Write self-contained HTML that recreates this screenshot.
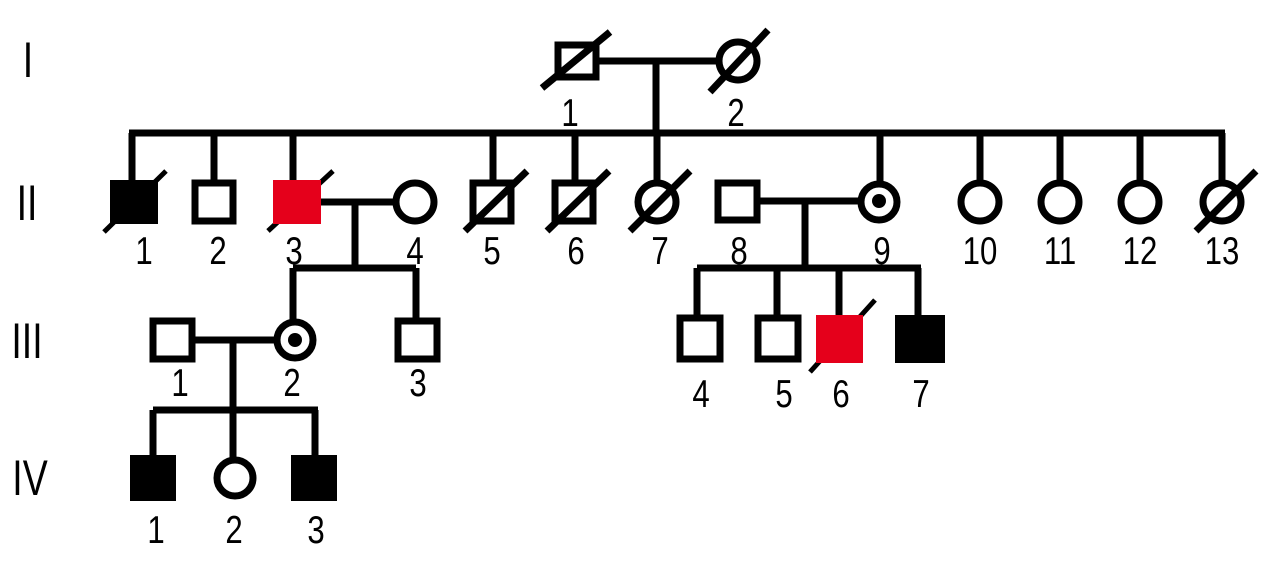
<!DOCTYPE html>
<html><head><style>
html,body{margin:0;padding:0;background:#fff;}
svg{display:block;}
text{font-family:"Liberation Sans",sans-serif;fill:#000;}
</style></head><body>
<svg width="1280" height="571" viewBox="0 0 1280 571" xmlns="http://www.w3.org/2000/svg">
<g font-size="50" text-anchor="middle">
<text transform="translate(28,77) scale(0.75,1)">I</text>
<text transform="translate(27,220) scale(0.75,1)">II</text>
<text transform="translate(27,358) scale(0.75,1)">III</text>
<text transform="translate(30,495) scale(0.75,1)">IV</text>
</g>
<g stroke="#000" stroke-width="7" fill="none">
<line x1="598" y1="61" x2="718" y2="61"/>
<line x1="656" y1="61" x2="656" y2="133"/>
<line x1="129" y1="133" x2="1225" y2="133"/>
<line x1="132" y1="133" x2="132" y2="180"/>
<line x1="214" y1="133" x2="214" y2="180"/>
<line x1="293" y1="133" x2="293" y2="180"/>
<line x1="493" y1="133" x2="493" y2="180"/>
<line x1="575" y1="133" x2="575" y2="180"/>
<line x1="657" y1="133" x2="657" y2="182"/>
<line x1="880" y1="133" x2="880" y2="182"/>
<line x1="980" y1="133" x2="980" y2="182"/>
<line x1="1060" y1="133" x2="1060" y2="182"/>
<line x1="1140" y1="133" x2="1140" y2="182"/>
<line x1="1222" y1="133" x2="1222" y2="182"/>
<line x1="321" y1="202" x2="395" y2="202"/>
<line x1="355" y1="202" x2="355" y2="268"/>
<line x1="293" y1="268" x2="416" y2="268"/>
<line x1="293" y1="268" x2="293" y2="320"/>
<line x1="416" y1="268" x2="416" y2="318"/>
<line x1="760" y1="201" x2="860" y2="201"/>
<line x1="805" y1="201" x2="805" y2="268"/>
<line x1="697" y1="268" x2="921" y2="268"/>
<line x1="697" y1="268" x2="697" y2="316"/>
<line x1="777" y1="268" x2="777" y2="316"/>
<line x1="839" y1="268" x2="839" y2="316"/>
<line x1="918" y1="268" x2="918" y2="316"/>
<line x1="195" y1="340" x2="275" y2="340"/>
<line x1="233" y1="340" x2="233" y2="410"/>
<line x1="153" y1="410" x2="318" y2="410"/>
<line x1="153" y1="410" x2="153" y2="456"/>
<line x1="233" y1="410" x2="233" y2="460"/>
<line x1="315" y1="410" x2="315" y2="456"/>
<line x1="542" y1="88" x2="610" y2="32"/>
<line x1="710" y1="92" x2="768" y2="30"/>
<line x1="104" y1="232" x2="166" y2="171" stroke-width="5"/>
<line x1="268" y1="231" x2="333" y2="171" stroke-width="5"/>
<line x1="465" y1="231" x2="527" y2="171"/>
<line x1="547" y1="231" x2="609" y2="171"/>
<line x1="630" y1="231" x2="690" y2="171"/>
<line x1="1196" y1="231" x2="1256" y2="171"/>
<line x1="810" y1="372" x2="875" y2="300" stroke-width="5"/>
<rect x="558" y="45" width="38" height="32" fill="none"/>
<circle cx="738" cy="61" r="19"/>
<rect x="110" y="180" width="48" height="44" fill="#000" stroke="none"/>
<rect x="195" y="183" width="38" height="38"/>
<rect x="273" y="180" width="48" height="44" fill="#e5001b" stroke="none"/>
<circle cx="415" cy="202" r="19" fill="#fff"/>
<rect x="473" y="183" width="38" height="38"/>
<rect x="555" y="183" width="38" height="38"/>
<circle cx="657" cy="202" r="19"/>
<rect x="718" y="183" width="39" height="37" fill="#fff"/>
<circle cx="879" cy="202" r="18" fill="#fff"/>
<circle cx="980" cy="202" r="19" fill="#fff"/>
<circle cx="1060" cy="202" r="19" fill="#fff"/>
<circle cx="1140" cy="202" r="19" fill="#fff"/>
<circle cx="1222" cy="202" r="19"/>
<rect x="153" y="321" width="39" height="38" fill="#fff"/>
<circle cx="295" cy="340" r="18" fill="#fff"/>
<rect x="398" y="321" width="39" height="38" fill="#fff"/>
<rect x="680" y="318" width="40" height="41" fill="#fff"/>
<rect x="758" y="318" width="40" height="41" fill="#fff"/>
<rect x="816" y="315" width="47" height="48" fill="#e5001b" stroke="none"/>
<rect x="895" y="315" width="50" height="48" fill="#000" stroke="none"/>
<rect x="130" y="455" width="46" height="46" fill="#000" stroke="none"/>
<circle cx="235" cy="478" r="18" fill="#fff"/>
<rect x="291" y="455" width="46" height="46" fill="#000" stroke="none"/>
</g>
<circle cx="879" cy="201" r="7" fill="#000"/>
<circle cx="295" cy="340" r="7" fill="#000"/>
<g font-size="39" text-anchor="middle">
<text transform="translate(570,126) scale(0.8,1)">1</text>
<text transform="translate(736,126) scale(0.8,1)">2</text>
<text transform="translate(144,264) scale(0.8,1)">1</text>
<text transform="translate(218,264) scale(0.8,1)">2</text>
<text transform="translate(294,264) scale(0.8,1)">3</text>
<text transform="translate(415,264) scale(0.8,1)">4</text>
<text transform="translate(492,264) scale(0.8,1)">5</text>
<text transform="translate(576,264) scale(0.8,1)">6</text>
<text transform="translate(660,264) scale(0.8,1)">7</text>
<text transform="translate(739,264) scale(0.8,1)">8</text>
<text transform="translate(882,264) scale(0.8,1)">9</text>
<text transform="translate(980,264) scale(0.8,1)">10</text>
<text transform="translate(1060,264) scale(0.8,1)">11</text>
<text transform="translate(1140,264) scale(0.8,1)">12</text>
<text transform="translate(1222,264) scale(0.8,1)">13</text>
<text transform="translate(180,396) scale(0.8,1)">1</text>
<text transform="translate(292,396) scale(0.8,1)">2</text>
<text transform="translate(418,396) scale(0.8,1)">3</text>
<text transform="translate(701,407) scale(0.8,1)">4</text>
<text transform="translate(784,407) scale(0.8,1)">5</text>
<text transform="translate(841,407) scale(0.8,1)">6</text>
<text transform="translate(921,407) scale(0.8,1)">7</text>
<text transform="translate(156,543) scale(0.8,1)">1</text>
<text transform="translate(234,543) scale(0.8,1)">2</text>
<text transform="translate(316,543) scale(0.8,1)">3</text>
</g>
</svg>
</body></html>
